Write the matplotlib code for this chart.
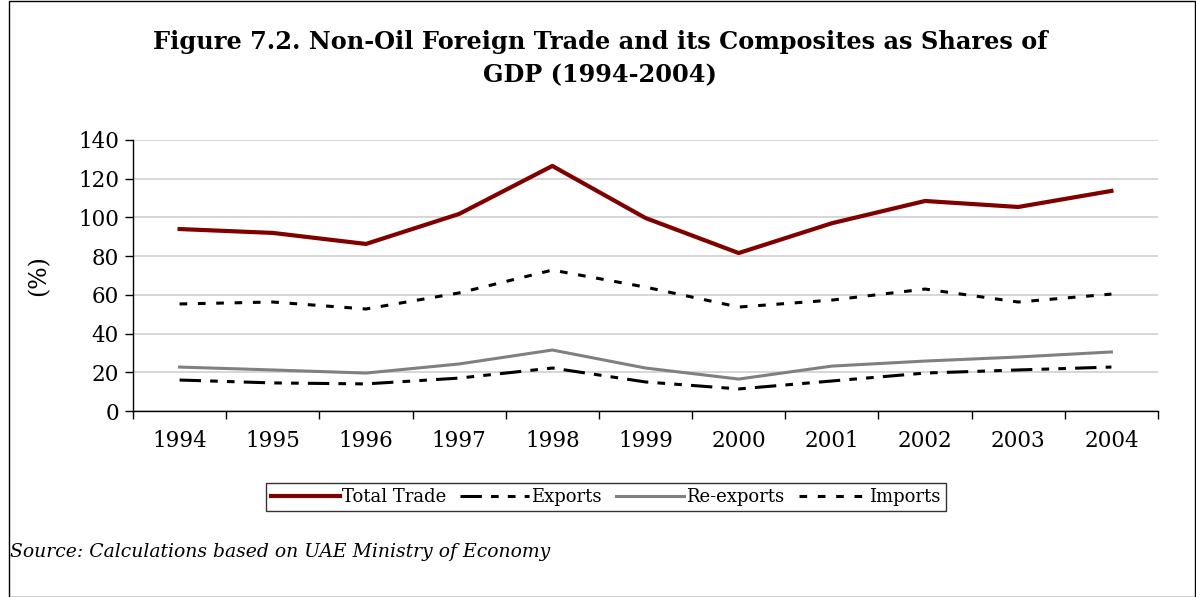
import matplotlib
matplotlib.use("Agg")
import matplotlib.pyplot as plt
from matplotlib.patches import Rectangle
import numpy as np

years = ["1994", "1995", "1996", "1997", "1998", "1999", "2000", "2001", "2002", "2003", "2004"]
total_trade = [94.0, 92.0, 86.3, 101.8, 126.6, 99.7, 81.6, 97.0, 108.5, 105.4, 113.7]
exports = [16.0, 14.5, 14.0, 17.0, 22.2, 15.0, 11.4, 15.5, 19.6, 21.2, 22.7]
re_exports = [22.7, 21.2, 19.6, 24.3, 31.5, 22.2, 16.5, 23.2, 25.8, 27.9, 30.5]
imports = [55.3, 56.3, 52.7, 61.0, 72.8, 64.0, 53.7, 57.3, 63.0, 56.3, 60.4]

plt.rcParams['font.family'] = ['DejaVu Serif']

W, H = 1196, 597
fig = plt.figure(figsize=(W/100, H/100), dpi=100)
ax = fig.add_axes([133/W, 1-411/H, (1158-133)/W, (411-140)/H])

x = np.arange(len(years))
ax.plot(x, total_trade, color='#800000', lw=3.0, label='Total Trade')
ax.plot(x, exports, color='black', lw=2.2, linestyle=(0, (7, 3, 2.5, 3, 2.5, 3)), label='Exports')
ax.plot(x, re_exports, color='#808080', lw=2.2, label='Re-exports')
ax.plot(x, imports, color='black', lw=2.2, linestyle=(0, (2.5, 3.5)), label='Imports')

ax.set_xlim(-0.5, len(years) - 0.5)
ax.set_ylim(0, 140)
ax.set_yticks(range(0, 141, 20))
ax.set_xticks(x)
ax.set_xticklabels(years)
ax.set_xticks(np.arange(-0.5, len(years), 1), minor=True)
ax.tick_params(axis='x', which='major', length=0, pad=14, labelsize=15.5)
ax.tick_params(axis='x', which='minor', length=6, direction='out', width=1)
ax.tick_params(axis='y', length=6, direction='out', width=1, labelsize=15.5, pad=4)
ax.grid(axis='y', color='#d0d0d0', lw=1.2)
ax.set_axisbelow(True)
for s in ['top', 'right']:
    ax.spines[s].set_visible(False)
ax.spines['left'].set_linewidth(1)
ax.spines['bottom'].set_linewidth(1)
ax.set_ylabel('(%)', fontsize=17, labelpad=20)

fig.text(600/W, 1-42/H, 'Figure 7.2. Non-Oil Foreign Trade and its Composites as Shares of',
         ha='center', va='center', fontsize=17.3, fontweight='bold')
fig.text(600/W, 1-75/H, 'GDP (1994-2004)', ha='center', va='center', fontsize=17.3, fontweight='bold')

leg = fig.legend(loc='center', bbox_to_anchor=(606/W, 1-497/H), ncol=4, frameon=True,
                 fontsize=13, handlelength=3.8, handletextpad=0.1, columnspacing=0.8,
                 fancybox=False, borderpad=0.3)
leg.get_frame().set_edgecolor('black')
leg.get_frame().set_linewidth(1)

fig.text(10/W, 1-552/H, 'Source: Calculations based on UAE Ministry of Economy',
         ha='left', va='center', fontsize=13.5, style='italic')

fig.patches.append(Rectangle((9/W, 0), 1 - 9/W - 1/W, 1 - 1/H, transform=fig.transFigure,
                             fill=False, edgecolor='black', lw=1))

fig.savefig('out.png', dpi=100)
